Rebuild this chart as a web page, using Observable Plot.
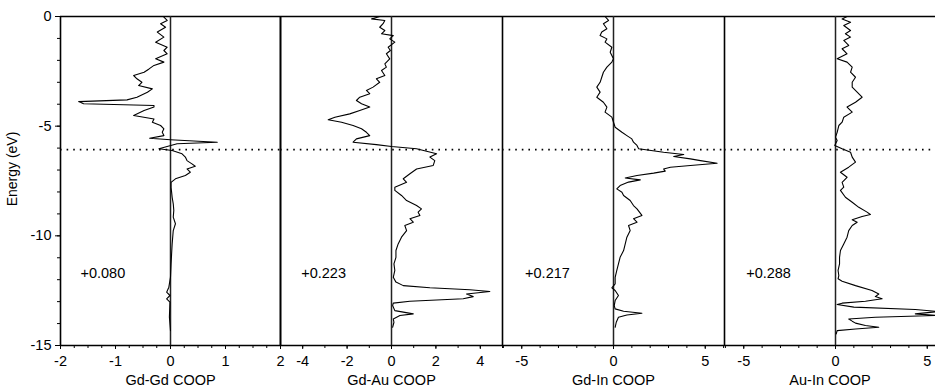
<!DOCTYPE html>
<html>
<head>
<meta charset="utf-8">
<script src="https://cdn.jsdelivr.net/npm/d3@7"></script>
<script src="https://cdn.jsdelivr.net/npm/@observablehq/plot@0.6"></script>
<style>
  html, body { margin: 0; padding: 0; background: #fff; overflow: hidden; }
  #chart { position: relative; width: 935px; height: 390px; }
  #chart svg { position: absolute; top: 0; max-width: none; }
</style>
</head>
<body>
<div id="chart"></div>
<script>
// ---- Data ----
const fermiEnergy = -6.07;

const gdgdEnergy = [-0.03,-0.18,-0.33,-0.49,-0.71,-0.94,-1.17,-1.40,-1.55,-1.70,-1.93,-2.08,-2.23,-2.39,-2.54,-2.69,-2.84,-3.00,-3.15,-3.30,-3.45,-3.68,-3.80,-3.88,-3.98,-4.06,-4.13,-4.29,-4.51,-4.67,-4.82,-4.97,-5.12,-5.28,-5.43,-5.55,-5.62,-5.73,-5.80,-6.03,-6.11,-6.26,-6.41,-6.57,-6.72,-6.83,-6.95,-7.10,-7.25,-7.40,-7.56,-7.80,-8.00,-8.24,-8.54,-8.84,-9.15,-9.45,-9.76,-10.37,-11.28,-11.88,-12.34,-12.57,-12.72,-12.87,-13.02,-13.71,-14.32];
const gdgdCoop   = [-0.12,-0.06,-0.18,-0.09,-0.24,-0.12,-0.27,-0.06,-0.12,-0.06,-0.27,-0.12,-0.30,-0.39,-0.48,-0.67,-0.61,-0.52,-0.58,-0.33,-0.42,-0.61,-0.79,-1.67,-1.58,-0.30,-0.30,-0.48,-0.67,-0.30,-0.33,-0.18,-0.12,-0.15,-0.12,-0.38,0.00,0.85,0.12,-0.21,0.03,0.21,0.27,0.30,0.39,0.45,0.30,0.36,0.27,0.09,0.01,0.01,0.02,0.03,0.05,0.06,0.05,0.09,0.05,0.03,0.01,0.00,-0.03,-0.07,-0.01,-0.07,-0.01,-0.02,0.00];

const gdauEnergy = [0.0,-0.11,-0.18,-0.33,-0.49,-0.64,-0.79,-0.87,-1.02,-1.17,-1.40,-1.55,-1.70,-1.93,-2.16,-2.31,-2.46,-2.69,-2.84,-3.00,-3.22,-3.37,-3.52,-3.68,-3.83,-3.98,-4.13,-4.29,-4.44,-4.59,-4.71,-4.82,-4.97,-5.12,-5.28,-5.43,-5.58,-5.73,-5.84,-5.93,-6.03,-6.14,-6.26,-6.41,-6.57,-6.79,-6.95,-7.17,-7.40,-7.56,-7.78,-7.93,-8.16,-8.39,-8.62,-8.77,-8.92,-9.07,-9.22,-9.38,-9.53,-9.76,-10.06,-10.37,-10.67,-10.98,-11.28,-11.58,-11.89,-12.11,-12.27,-12.37,-12.46,-12.54,-12.65,-12.77,-12.87,-12.98,-13.07,-13.18,-13.41,-13.56,-13.63,-13.79,-13.94,-14.17];
const gdauCoop   = [-0.53,-0.90,-0.30,-0.38,-0.53,-0.30,-0.45,0.08,-0.08,0.15,-0.15,-0.05,-0.23,-0.08,-0.30,-0.23,-0.45,-0.30,-0.68,-0.53,-0.83,-1.13,-0.98,-1.43,-1.58,-1.35,-0.98,-1.43,-1.88,-2.55,-2.85,-2.25,-1.73,-1.35,-1.13,-0.98,-1.58,-1.73,-0.68,0.00,1.13,1.58,2.03,1.73,1.95,1.88,1.13,0.83,0.53,0.68,0.15,0.15,0.45,0.68,1.13,1.35,1.20,1.28,0.83,0.98,0.60,0.68,0.45,0.30,0.20,0.20,0.11,0.15,0.08,0.20,0.53,1.73,3.53,4.43,3.38,3.68,3.23,0.83,0.08,0.05,0.15,0.98,0.38,0.08,0.11,0.05];

const gdinEnergy = [0.0,-0.18,-0.33,-0.56,-0.71,-0.87,-1.02,-1.17,-1.40,-1.63,-1.93,-2.08,-2.31,-2.54,-2.77,-3.00,-3.22,-3.45,-3.68,-3.91,-4.13,-4.36,-4.59,-4.82,-5.05,-5.28,-5.43,-5.58,-5.73,-5.88,-6.03,-6.19,-6.29,-6.38,-6.49,-6.57,-6.69,-6.79,-6.87,-6.95,-7.05,-7.14,-7.25,-7.36,-7.45,-7.55,-7.71,-7.86,-8.01,-8.16,-8.39,-8.62,-8.77,-9.07,-9.22,-9.38,-9.53,-9.76,-10.06,-10.37,-10.67,-10.98,-11.28,-11.58,-11.89,-12.19,-12.37,-12.49,-12.72,-12.95,-13.18,-13.33,-13.44,-13.53,-13.61,-13.71,-13.94,-14.17];
const gdinCoop   = [-0.46,-0.27,-0.55,-0.36,-0.64,-0.73,-0.36,-0.46,-0.09,-0.18,0.00,-0.09,-0.36,-0.55,-0.64,-0.73,-0.91,-0.73,-0.91,-0.55,-0.36,-0.46,-0.09,0.00,0.09,0.46,0.73,1.00,1.09,1.28,1.37,2.73,3.83,3.28,4.19,4.74,5.65,4.19,3.10,2.73,2.82,2.19,1.28,0.64,1.46,0.82,0.36,0.18,0.46,0.55,0.91,1.09,1.28,1.55,1.09,1.28,0.82,0.91,0.73,0.64,0.55,0.36,0.27,0.18,0.09,0.09,-0.09,0.09,0.27,0.09,0.04,0.09,0.55,1.55,0.73,0.27,0.15,0.09];

const auinEnergy = [0.0,-0.11,-0.26,-0.41,-0.64,-0.79,-0.94,-1.09,-1.32,-1.47,-1.70,-1.93,-2.08,-2.31,-2.54,-2.77,-3.00,-3.22,-3.45,-3.68,-3.91,-4.13,-4.36,-4.59,-4.82,-4.97,-5.28,-5.50,-5.65,-5.88,-6.03,-6.19,-6.41,-6.64,-6.87,-7.10,-7.33,-7.56,-7.78,-7.93,-8.24,-8.47,-8.70,-8.92,-9.03,-9.12,-9.27,-9.38,-9.53,-9.76,-10.06,-10.37,-10.67,-10.98,-11.28,-11.58,-11.81,-11.96,-12.07,-12.27,-12.49,-12.65,-12.77,-12.87,-12.98,-13.07,-13.13,-13.25,-13.36,-13.45,-13.56,-13.63,-13.71,-13.79,-13.89,-13.98,-14.09,-14.17,-14.25,-14.32,-14.47];
const auinCoop   = [0.63,0.36,0.82,0.45,0.82,0.54,0.82,0.45,0.72,0.36,0.63,0.09,0.63,0.91,0.82,1.09,0.91,0.91,1.18,1.45,1.09,0.63,0.91,0.45,0.36,0.18,0.09,0.00,0.09,-0.04,0.36,0.82,0.91,1.09,0.72,0.27,0.63,0.36,0.45,0.27,0.54,0.91,1.27,1.72,1.90,1.45,0.91,1.18,0.91,0.72,0.63,0.45,0.27,0.22,0.22,0.14,0.18,0.14,0.36,1.09,1.99,2.36,2.17,2.54,1.63,0.36,0.09,1.00,4.35,5.60,4.35,5.50,2.17,0.72,0.91,1.09,1.63,2.36,1.09,0.09,0.04];

const panelLabels = ["Gd-Gd COOP", "Gd-Au COOP", "Gd-In COOP", "Au-In COOP"];
const integratedValues = ["+0.080", "+0.223", "+0.217", "+0.288"];
const yTickValues = [0, -5, -10, -15];
const yTickLabels = ["0", "-5", "-10", "-15"];

// ---- Panels ----
const font = "'Liberation Sans', Arial, Helvetica, sans-serif";
const chart = document.getElementById("chart");

const panels = [
  {E: gdgdEnergy, V: gdgdCoop, left: 0, width: 280, marginLeft: 60, domain: [-2, 2], ticks: [-2, -1, 0, 1, 2], minorStep: 0.25, noteX: -1.23},
  {E: gdauEnergy, V: gdauCoop, left: 280, width: 222, marginLeft: 0, domain: [-5, 5], ticks: [-4, -2, 0, 2, 4], minorStep: 1, noteX: -3.06},
  {E: gdinEnergy, V: gdinCoop, left: 502, width: 222, marginLeft: 0, domain: [-6.05, 6.05], ticks: [-5, 0, 5], minorStep: 1, noteX: -3.6},
  {E: auinEnergy, V: auinCoop, left: 724, width: 211, marginLeft: 0, domain: [-6.05, 5.45], ticks: [-5, 0, 5], minorStep: 1, noteX: -3.65}
];

panels.forEach((p, i) => {
  const data = p.E.map((e, j) => ({e, v: p.V[j]}));
  const minor = d3.range(Math.ceil(p.domain[0] / p.minorStep) * p.minorStep, p.domain[1] + 1e-9, p.minorStep);
  const marks = [
    Plot.ruleY([0, -15], {stroke: "#000", strokeWidth: 1.4}),
    Plot.ruleX([p.domain[0]], {stroke: "#000", strokeWidth: 1.6}),
    Plot.ruleX([0], {stroke: "#222", strokeWidth: 1.5}),
    Plot.ruleY([fermiEnergy], {stroke: "#000", strokeWidth: 1.6, strokeDasharray: "1.6,5"}),
    Plot.line(data, {x: "v", y: "e", stroke: "#000", strokeWidth: 1.1}),
    Plot.axisX({ticks: minor, tickSize: 3, tickFormat: () => "", label: null}),
    Plot.axisX({ticks: p.ticks, tickSize: 4, tickPadding: 6, tickFormat: d => String(d),
      fontSize: 14.5, label: panelLabels[i], labelAnchor: "center", labelArrow: false, labelOffset: 39}),
    Plot.text([integratedValues[i]], {x: () => p.noteX, y: () => -11.7, text: d => d, fontSize: 14.5, fill: "#000"})
  ];
  if (i === 0) {
    marks.push(Plot.ruleX([2], {stroke: "#000", strokeWidth: 1.6}));
    marks.push(Plot.axisY({ticks: d3.range(0, -16, -1), tickSize: 3, tickFormat: () => "", label: null}));
    marks.push(Plot.axisY({ticks: yTickValues, tickSize: 5, tickPadding: 4,
      tickFormat: d => yTickLabels[yTickValues.indexOf(d)], fontSize: 14.5, label: null}));
    marks.push(Plot.text(["Energy (eV)"], {frameAnchor: "left", textAnchor: "middle", dx: -48, dy: -12, rotate: -90, fontSize: 14, fill: "#000"}));
  }
  const svg = Plot.plot({
    width: p.width,
    height: 390,
    marginLeft: p.marginLeft,
    marginRight: 0,
    marginTop: 16,
    marginBottom: 45,
    style: {background: "transparent", overflow: "visible", fontFamily: font, color: "#000"},
    x: {domain: p.domain},
    y: {domain: [-15, 0], axis: null},
    marks
  });
  svg.style.left = p.left + "px";
  chart.appendChild(svg);
});
</script>
</body>
</html>
